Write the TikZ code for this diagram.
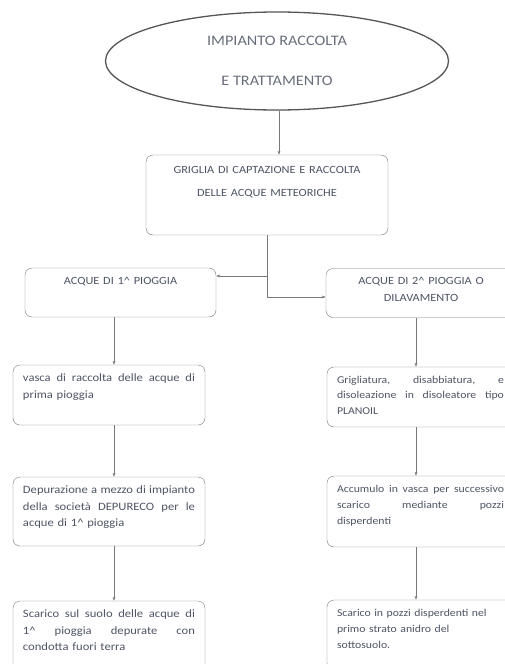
\documentclass[tikz,border=0pt]{standalone}
\usepackage{fontspec}
\setmainfont{Carlito}[FakeStretch=1.12]
\usepackage{tikz}
\usetikzlibrary{arrows.meta,calc,positioning,shapes.geometric}

\definecolor{inktext}{RGB}{78,84,100}
\definecolor{boxline}{RGB}{120,120,125}
\definecolor{ellline}{RGB}{85,85,90}

% testo allineato in alto dentro il riquadro
\newcommand{\toptext}[2]{\parbox[c][#1][t]{\linewidth}{#2}}
% riga giustificata a tutta larghezza
\newcommand{\fullline}[1]{{\spaceskip=.2em plus 1fil\makebox[\linewidth][s]{#1}}\\}

\begin{document}
\begin{tikzpicture}[>=Latex, x=1pt, y=-1pt,
    stage/.style={draw=boxline, thin, rounded corners=7pt, inner xsep=10pt, inner ysep=9pt,
      text=inktext, font=\fontsize{11.25}{16.5}\selectfont},
    rightstage/.style={stage, text width=167pt, font=\fontsize{10.5}{16}\selectfont},
    flow/.style={->, thin, boxline, >={Latex[length=3.5pt,width=3pt]}}]
  \useasboundingbox (0,0) rectangle (504,664);

  % titolo
  \node[ellipse, draw=ellline, line width=1.3pt, minimum width=343pt, minimum height=98pt,
    text=inktext!85, font=\fontsize{14.5}{40}\selectfont, align=center] (title) at (277,61)
    {IMPIANTO RACCOLTA\\E TRATTAMENTO};

  % griglia
  \node[stage, inner xsep=5pt, inner ysep=11pt, text width=232pt] (grid) at (267,195)
    {\toptext{58pt}{\centering\fontsize{11}{23}\selectfont GRIGLIA DI CAPTAZIONE E RACCOLTA\\DELLE ACQUE METEORICHE}};

  % ramo sinistro
  \node[stage, inner xsep=5pt, text width=181pt] (rain1) at (120.5,292.5)
    {\toptext{31pt}{\centering\fontsize{11}{17}\selectfont ACQUE DI 1\^{} PIOGGIA}};
  \node[stage, text width=172pt] (tank1) at (109,395)
    {\toptext{42pt}{\fullline{vasca di raccolta delle acque di}prima pioggia}};
  \node[stage, text width=172pt] (clean1) at (109,511.5)
    {\toptext{51pt}{\fullline{Depurazione a mezzo di impianto}\fullline{della società DEPURECO per le}acque di 1\^{} pioggia}};
  \node[stage, text width=172pt] (out1) at (109,636)
    {\toptext{52pt}{\fullline{Scarico sul suolo delle acque di}\fullline{1\^{} pioggia depurate con}condotta fuori terra}};

  % ramo destro
  \node[stage, inner xsep=5pt, text width=180pt] (rain2) at (421,293)
    {\toptext{31pt}{\centering\fontsize{11}{17}\selectfont ACQUE DI 2\^{} PIOGGIA O\\DILAVAMENTO}};
  \node[rightstage] (tank2) at (420.5,397)
    {\toptext{42pt}{\fontsize{10.5}{15.5}\selectfont\fullline{Grigliatura, disabbiatura, e}\fullline{disoleazione in disoleatore tipo}PLANOIL}};
  \node[rightstage] (store2) at (420.5,511.5)
    {\toptext{53pt}{\fullline{Accumulo in vasca per successivo}\fullline{scarico mediante pozzi}disperdenti}};
  \node[rightstage] (out2) at (420.5,635)
    {\toptext{52pt}{Scarico in pozzi disperdenti nel\\primo strato anidro del\\sottosuolo.}};

  % collegamenti
  \coordinate (split) at ($(rain1.east)+(0,-16.5)$);
  \draw[flow] ([xshift=2pt]title.south) -- ([xshift=2pt]title.south |- grid.north);
  \draw[flow] (grid.south) |- ([yshift=-4pt]rain2.west);
  \draw[flow] (grid.south |- split) -- (split);
  \draw[flow] ([xshift=-6.5pt]rain1.south) -- ([xshift=-6.5pt]rain1.south |- tank1.north);
  \draw[flow] ([xshift=5pt]tank1.south) -- ([xshift=5pt]tank1.south |- clean1.north);
  \draw[flow] ([xshift=5pt]clean1.south) -- ([xshift=5pt]clean1.south |- out1.north);
  \draw[flow] ([xshift=-5pt]rain2.south) -- ([xshift=-5pt]rain2.south |- tank2.north);
  \draw[flow] ([xshift=-4.5pt]tank2.south) -- ([xshift=-4.5pt]tank2.south |- store2.north);
  \draw[flow] ([xshift=-4.5pt]store2.south) -- ([xshift=-4.5pt]store2.south |- out2.north);
\end{tikzpicture}
\end{document}
